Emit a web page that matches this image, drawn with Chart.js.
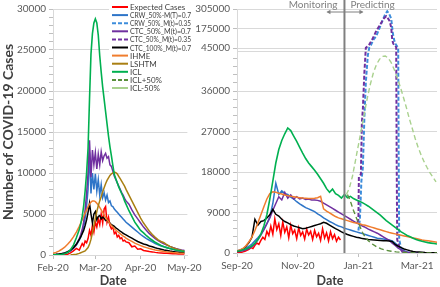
<!DOCTYPE html>
<html><head><meta charset="utf-8">
<script src="https://cdn.jsdelivr.net/npm/chart.js@4.4.0/dist/chart.umd.min.js"></script>
<style>
html,body{margin:0;padding:0;background:#fff;width:440px;height:287px;overflow:hidden}
#c1{position:absolute;left:0;top:0;width:205px;height:287px}
#c2{position:absolute;left:190px;top:0;width:250px;height:287px}
</style></head><body>
<canvas id="c1" width="205" height="287"></canvas>
<canvas id="c2" width="250" height="287"></canvas>
<script>
// ---------- series names / styles ----------
const seriesNames = ['Expected Cases','CRW_50%-M(T)=0.7','CRW_50%_M(t)=0.35','CTC_50%_M(t)=0.7','CTC_50%_M(t)=0.35','CTC_100%_M(t)=0.7','IHME','LSHTM','ICL','ICL+50%','ICL-50%'];
const seriesColors = ['#ff0000','#2e75c8','#3d8ddb','#7030a0','#7030a0','#000000','#f07d2e','#a97f12','#00b050','#5a8f3c','#a9d18e'];
const seriesDash = [[],[],[4,2],[],[4,2],[],[],[],[],[5,3],[5,3]];
const legendDash = [[],[],[4,2],[],[4,2],[],[],[],[],[4,2],[]];
const seriesWidth = [1.5,1.5,2,1.5,2,1.5,1.5,1.5,1.6,1.4,1.4];

// ---------- left panel (Feb–May 2020), x = days since 1 Feb 2020 ----------
const leftTickDays = [0,29,60,90];
const leftTickLabels = ['Feb-20','Mar-20','Apr-20','May-20'];
const leftYMajor = [0,5000,10000,15000,20000,25000,30000];
const leftDays = [0,2,4,6,8,10,12,14,16,18,19,20,21,22,23,24,25,26,27,28,29,30,31,32,33,34,35,36,37,38,39,40,41,42,43,44,45,46,47,48,49,50,52,54,56,58,60,62,64,66,68,70,72,74,76,78,80,82,84,86,88,90];
const expectedL = [0,0,0,0,20,100,250,500,800,600, 1000,1400,1100,1700,1500,2000,3000,2400,3600,2800, 4000,3400,4400,3700,5000,3900,5600,5900,4000,4600, 3600,3200,3400,2600,2800,2200,2400,2000,2100,1700, 1800,1600, 1500,1000,1100,700,750,550,500,420,380,320, 280,250,220,200,180,160,150,130,120,110];
const crwL = [30,50,80,130,200,320,500,800,1200,1800, 2200,2800,3500,4500,6000,8000,12500,7500,10000,8000, 9900,7800,9200,7300,8600,7000,7600,6700,7300,6400, 6600,6000,5900,5600,5400,5200,5000,4800,4600,4400, 4200,4000, 3700,3400,3100,2800,2500,2250,2000,1800,1600,1400, 1250,1100,1000,880,780,690,610,540,480,430];
const ctcL = [30,50,80,130,200,330,520,850,1300,2000, 2500,3100,4000,5500,7500,10000,14000,9500,12800,11000, 12500,10500,12300,11000,12600,11500,12100,12400,11800,12000, 11000,10800,10200,9600,9200,8800,8400,8000,7600,7300, 6900,6600, 6200,5500,4900,4400,3900,3400,3000,2600,2300,2000, 1750,1550,1350,1200,1050,920,800,700,620,550];
const ctc100L = [50,80,120,180,250,400,600,900,1300,1900, 2200,2600,3000,3600,4300,5200,6300,5000,3900,5000, 5300,4300,4700,4800,4400,4600,4500,4200,4300,4000, 3900,3700,3600,3500,3300,3200,3050,2900,2800,2650, 2550,2450, 2250,2050,1850,1650,1500,1350,1250,1100,1000,880, 780,700,620,550,480,420,380,340,300,270];
const ihmeL = [200,320,480,700,950,1300,1700,2200,2800,3500, 3900,4300,4700,5100,5500,5900,6200,6450,6600,6600, 6500,6300,6100,5800,5500,5200,4900,4600,4300,4050, 3800,3600,3400,3200,3050,2900,2750,2600,2450,2300, 2200,2050, 1850,1650,1450,1300,1150,1000,900,800,700,620, 550,490,430,380,340,300,270,240,220,200];
const lshtmL = [null,null,null,null,null,null,20,50,100,200, 280,350,420,500,700,900,1300,1900,2700,3600, 4500,5300,6000,6600,7100,7700,8200,8700,9100,9400, 9700,9900,10000,10100,10050,9900,9600,9300,9000,8700, 8400,8000, 7300,6600,5900,5200,4500,3900,3400,2900,2500,2150, 1850,1650,1500,1250,1050,900,780,650,550,470];
const iclL = [20,30,50,80,150,300,650,1200,2100,3100, 3800,4700,6000,7800,10000,13000,19000,24500,27000,28300, 28800,28300,26800,24300,22300,20500,19000,17500,16000,14500, 13200,12100,10900,9800,9300,8800,8300,7900,7500,7100, 6600,6200, 5400,4700,4000,3500,3000,2700,2350,2050,1800,1550, 1350,1150,1000,900,800,700,620,550,480,420];

// ---------- right panel (Sep 2020–Mar 2021), x = days since 1 Sep 2020 ----------
const rightTickDays = [0,61,122,181];
const rightTickLabels = ['Sep-20','Nov-20','Jan-21','Mar-21'];
const rightYMajor = [0,9000,18000,27000,36000,45000,175000,305000];
const splitDay = 108;
const rightDays = [0,3,6,9,12,15,18,21,24,27,30,33,36,39,42,45,48,51,54,57,60,63,66,69,72,75,78,81,84,87,90,93,96,99,102,105,108,111,114,117,120,123,126,129,132,135,138,141,144,147,150,153,156,159,162,165,168,171,174,177,180,183,186,189,192,195,198,201];
const expectedRDays = [0,2,4,6,8,10,12,14,16,18,20,22,24,26,28,30,32,34,36,38,40,42,44,46,48,50,52,54,56,58,60,62,64,66,68,70,72,74,76,78,80,82,84,86,88,90,92,94,96,98,100,102,104];
const expectedR = [100,150,100,250,400,600,800,1200,1000,1700,2200,1900,2800,3500,3000,4800,3900,6000,4200,7600,5200,6500,3900,6900,4600,5800,3400,6200,4300,5100,3200,5600,3900,4700,3100,5300,4000,4800,3000,5000,3600,4400,2800,5400,3300,4500,2700,4700,3200,4100,2600,3500,2900];
const crwR = [500,600,800,1100,1500,2000,2700,3400,4200,5200,6500,8000,11000,15500,13000,13800,13200,13000,12400,12000,11400,10900,10500,10100,9800,9500,9200,8700,8300,7800,7400,7000,6700,6300,6000,5800,5500,5300,5100,4900,4700,4500,4300,4100,3900,3700,3500,3300,3200,3100,3000,2900,2700,2200,1600,1000,500,200,50,0,0,0,0,0,0,0,0,0];
const ctcR = [300,400,500,700,1000,1400,2000,2900,4000,5200,6500,7800,9500,11000,12500,11800,13500,12200,12900,12000,12500,12000,12200,11900,12000,11800,11800,11700,11500,11100,10700,10300,9900,9500,9100,8700,8300,7900,7500,7100,6700,6400,6000,5700,5300,5000,4700,4400,4000,3600,3200,2800,2200,1700,1100,700,350,150,50,0,0,0,0,0,0,0,0,0];
const ctc100R = [400,600,900,1500,2300,3500,7500,6200,7000,7200,7800,8500,9700,8600,8200,7500,7000,6700,6300,6000,5800,5600,5400,5500,5700,5900,6100,6300,6500,6800,6600,6200,5800,5400,5100,4700,4400,4100,3900,3700,3500,3400,3200,3100,3000,2950,2900,2850,2800,2750,2700,2650,2550,1900,1500,1200,900,700,500,350,250,200,150,100,80,60,50,40];
const ihmeR = [500,700,1000,1600,2500,3500,5000,6700,8500,10300,12000,13200,13600,13500,13300,13100,12900,12750,12600,12500,12400,12300,12200,12150,12100,12100,12150,12300,12600,9800,9300,8900,8500,8100,7800,7600,7400,7200,7000,6800,6650,6500,6300,6150,5950,5750,5550,5350,5150,4950,4750,4550,4400,4250,4100,3950,3800,3650,3500,3350,3200,3050,2900,2800,2700,2600,2500,2400];
const iclR = [400,500,700,900,1200,1600,2200,3000,4200,6000,8500,12000,16000,20000,23000,25000,26500,27800,27200,26000,24800,23500,22200,21000,20000,19200,18400,17500,16500,15500,14300,13500,14200,13200,12800,12200,13000,12300,12600,12100,11800,11500,11200,10800,10400,9900,9400,8900,8400,7800,7200,6700,6200,5700,5200,4700,4300,3900,3600,3300,3000,2800,2600,2450,2300,2200,2100,2000];
const crw035Days = [122,123.5,125,126.5,128,129.5,131.5,133,135,137,140,143,146,149,151,153,155,156.5,157.5,159,161,162,162.5,163,165,168,172];
const crw035R = [5000,7500,16000,19000,30000,38000,44000,50000,70000,100000,125000,175000,224000,270000,290000,272000,240000,150000,110000,75000,55000,45000,20000,3000,1000,200,0];
const ctc035Days = [121,122,122.5,124.5,125.5,126.5,128,129.5,131,133,136,140,143,146,148,150,152,153.5,155,156,157,159,160,160.5,161,163,166,170];
const ctc035R = [6700,7500,16900,17500,29000,32000,40000,47000,55000,70000,103000,160000,191000,225000,245000,257000,240000,224000,180000,100000,75000,60000,50000,20000,3000,1500,300,0];
const iclPlusDays = [111,114,117,120,123,126,129,132,136,140,145,150,155,160,170,180,201];
const iclPlusR = [13000,11500,9500,7800,6200,4600,3500,2700,2000,1400,900,600,400,250,100,30,0];
const iclMinusDays = [110,113,116,119,122,125,128,131,134,137,140,143,146,149,152,155,158,161,164,167,170,173,176,179,182,185,188,191,194,197,200];
const iclMinusR = [13000,14500,17000,20500,24000,27500,31000,34500,37500,40000,41800,43000,43700,43800,43300,42300,40800,39000,37000,34800,32500,30000,27800,25500,23500,21800,20300,19000,17800,16800,15800];

// ---------- broken y scale (linear up to 45000, compressed above) ----------
const BREAK_AT = 45000, BREAK_GAP = 550, BREAK_K = 0.0334;
function brkFwd(v){ return v < BREAK_AT ? v : BREAK_AT + BREAK_GAP + (v - BREAK_AT) * BREAK_K; }
function brkInv(t){ return t < BREAK_AT ? t : BREAK_AT + (t - BREAK_AT - BREAK_GAP) / BREAK_K; }
const LinearScale = Chart.registry.getScale('linear');
class BrokenLinearScale extends LinearScale {
  buildTicks(){
    const vals = rightYMajor.slice();
    for (let v = 1800; v < BREAK_AT; v += 1800) if (!vals.includes(v)) vals.push(v);
    vals.sort((a,b)=>a-b);
    return vals.map(v=>({value:v}));
  }
  getPixelForValue(v){ return (v === null || v === undefined) ? NaN : super.getPixelForValue(brkFwd(v)); }
  getValueForPixel(p){ return brkInv(super.getValueForPixel(p)); }
}
BrokenLinearScale.id = 'brokenLinear';
BrokenLinearScale.defaults = {};
Chart.register(BrokenLinearScale);

// ---------- helpers ----------
const FONT = 'Lato, "Liberation Sans", sans-serif';
Chart.defaults.font.family = FONT;
Chart.defaults.font.size = 10;
Chart.defaults.color = '#595959';
function ds(k, days, vals){
  return {label: seriesNames[k], data: vals.map((v,i)=>({x:days[i], y:v})),
    borderColor: seriesColors[k], backgroundColor: seriesColors[k], borderWidth: seriesWidth[k],
    borderDash: seriesDash[k], pointRadius:0, tension:0, fill:false, spanGaps:false, order: 100-k};
}
const TRANSP = 'rgba(0,0,0,0)';

const leftDecor = {
  id:'leftDecor',
  afterDraw(chart){
    const ctx = chart.ctx, ca = chart.chartArea;
    ctx.save();
    // legend
    ctx.fillStyle = '#fff'; ctx.fillRect(109, 1, 96, 93);
    ctx.font = '8px ' + FONT; ctx.textBaseline = 'middle'; ctx.textAlign = 'left';
    seriesNames.forEach((n,i)=>{
      const y = 7 + i*8.1;
      ctx.strokeStyle = seriesColors[i]; ctx.lineWidth = 2; ctx.setLineDash(legendDash[i]);
      ctx.beginPath(); ctx.moveTo(112, y); ctx.lineTo(128, y); ctx.stroke();
      ctx.setLineDash([]);
      ctx.fillStyle = '#404040'; ctx.fillText(n, 130, y + 0.5, 61);
    });
    // axis titles
    ctx.fillStyle = '#404040';
    ctx.font = 'bold 14px ' + FONT; ctx.textAlign = 'center';
    ctx.save(); ctx.translate(8, (ca.top+ca.bottom)/2); ctx.rotate(-Math.PI/2);
    ctx.fillText('Number of COVID-19 Cases', 0, 0); ctx.restore();
    ctx.font = 'bold 12.5px ' + FONT;
    ctx.fillText('Date', (ca.left+ca.right)/2 - 7, 281);
    ctx.restore();
  }
};
const rightDecor = {
  id:'rightDecor',
  beforeDatasetsDraw(chart){
    const ctx = chart.ctx, ca = chart.chartArea, y = chart.scales.y;
    const py = Math.round(y.getPixelForValue(BREAK_AT - 0.001)) + 0.5;
    ctx.save(); ctx.strokeStyle = '#d9d9d9'; ctx.lineWidth = 1;
    ctx.beginPath(); ctx.moveTo(ca.left, py); ctx.lineTo(ca.right, py); ctx.stroke(); ctx.restore();
  },
  afterDatasetsDraw(chart){
    const ctx = chart.ctx, ca = chart.chartArea;
    const lx = chart.scales.x.getPixelForValue(splitDay);
    ctx.save();
    ctx.strokeStyle = '#808080'; ctx.lineWidth = 2;
    ctx.beginPath(); ctx.moveTo(lx, 0); ctx.lineTo(lx, ca.bottom); ctx.stroke();
    // arrow
    ctx.lineWidth = 1;
    ctx.beginPath(); ctx.moveTo(lx-17, 12); ctx.lineTo(lx+18, 12); ctx.stroke();
    ctx.fillStyle = '#808080';
    ctx.beginPath(); ctx.moveTo(lx-18, 12); ctx.lineTo(lx-14, 9.8); ctx.lineTo(lx-14, 14.2); ctx.closePath(); ctx.fill();
    ctx.beginPath(); ctx.moveTo(lx+19, 12); ctx.lineTo(lx+15, 9.8); ctx.lineTo(lx+15, 14.2); ctx.closePath(); ctx.fill();
    ctx.font = '10px ' + FONT; ctx.textBaseline = 'middle';
    ctx.textAlign = 'right'; ctx.fillText('Monitoring', lx - 7, 5);
    ctx.textAlign = 'left'; ctx.fillText('Predicting', lx + 6, 5);
    ctx.fillStyle = '#404040'; ctx.textAlign = 'center';
    ctx.font = 'bold 12.5px ' + FONT;
    ctx.fillText('Date', (ca.left+ca.right)/2 - 7, 281);
    ctx.restore();
  }
};

function xAxis(max, tickDays, tickLabels){
  return {type:'linear', min:0, max:max,
    afterBuildTicks: s=>{ s.ticks = tickDays.map(v=>({value:v})); },
    ticks:{autoSkip:false, maxRotation:0, minRotation:0, padding:3, color:'#595959', font:{size:10},
      callback:(v,i)=>tickLabels[i]},
    grid:{drawOnChartArea:false, drawTicks:true, tickLength:4, tickColor:'#bfbfbf'},
    border:{color:'#d9d9d9'}};
}

// ---------- left chart ----------
const leftYTicks = leftYMajor.slice();
for (let v = 1000; v < 30000; v += 1000) if (!leftYTicks.includes(v)) leftYTicks.push(v);
leftYTicks.sort((a,b)=>a-b);

new Chart(document.getElementById('c1'), {
  type:'line',
  data:{datasets:[
    ds(0,leftDays,expectedL), ds(1,leftDays,crwL), ds(3,leftDays,ctcL), ds(5,leftDays,ctc100L),
    ds(6,leftDays,ihmeL), ds(7,leftDays,lshtmL), ds(8,leftDays,iclL)]},
  options:{responsive:false, animation:false, devicePixelRatio:1,
    layout:{padding:{left:0,right:15,top:7,bottom:0}},
    plugins:{legend:{display:false}, tooltip:{enabled:false}},
    scales:{
      x: Object.assign(xAxis(92,leftTickDays,leftTickLabels), {afterFit:s=>{s.height=32;}}),
      y: {type:'linear', min:0, max:30000,
        afterBuildTicks: s=>{ s.ticks = leftYTicks.map(v=>({value:v})); },
        afterFit: s=>{ s.width = 53; },
        ticks:{autoSkip:false, padding:3, color:'#595959', callback:v=> leftYMajor.includes(v) ? String(v) : ''},
        grid:{color:c=> (c.tick && leftYMajor.includes(c.tick.value)) ? '#d9d9d9' : TRANSP, tickColor:'#bfbfbf', tickLength:4},
        border:{color:'#d9d9d9'}}
    }},
  plugins:[leftDecor]
});

// ---------- right chart ----------
new Chart(document.getElementById('c2'), {
  type:'line',
  data:{datasets:[
    ds(0,expectedRDays,expectedR), ds(1,rightDays,crwR), ds(2,crw035Days,crw035R), ds(3,rightDays,ctcR),
    ds(4,ctc035Days,ctc035R), ds(5,rightDays,ctc100R), ds(6,rightDays,ihmeR), ds(8,rightDays,iclR),
    ds(9,iclPlusDays,iclPlusR), ds(10,iclMinusDays,iclMinusR)]},
  options:{responsive:false, animation:false, devicePixelRatio:1,
    layout:{padding:{left:0,right:3,top:6,bottom:0}},
    plugins:{legend:{display:false}, tooltip:{enabled:false}},
    scales:{
      x: Object.assign(xAxis(201,rightTickDays,rightTickLabels), {afterFit:s=>{s.height=34;}}),
      y: {type:'brokenLinear', min:0, max:brkFwd(305000),
        afterFit: s=>{ s.width = 47; },
        ticks:{autoSkip:false, padding:3, color:'#595959', callback:v=> rightYMajor.includes(v) ? String(v) : ''},
        grid:{color:c=> (c.tick && rightYMajor.includes(c.tick.value)) ? '#d9d9d9' : TRANSP, tickColor:'#bfbfbf', tickLength:4},
        border:{color:'#d9d9d9'}}
    }},
  plugins:[rightDecor]
});
</script></body></html>
